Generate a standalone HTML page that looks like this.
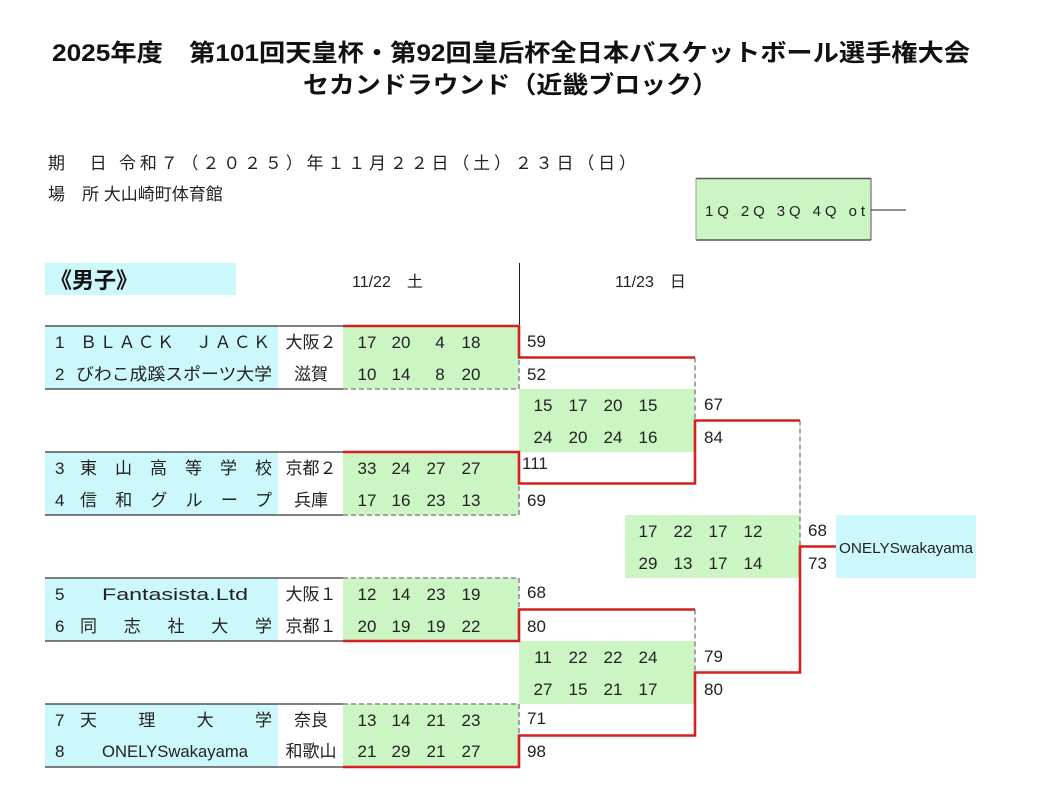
<!DOCTYPE html>
<html><head><meta charset="utf-8"><style>
html,body{margin:0;padding:0;background:#fff;}
svg{display:block;font-family:"Liberation Sans","Noto Sans CJK JP",sans-serif;}
</style></head><body>
<svg width="1050" height="785" viewBox="0 0 1050 785" xmlns="http://www.w3.org/2000/svg">
<g font-weight="bold" font-size="24" fill="#111">
<text x="52" y="61" textLength="918" lengthAdjust="spacingAndGlyphs">2025年度　第101回天皇杯・第92回皇后杯全日本バスケットボール選手権大会</text>
<text x="303" y="93" textLength="415" lengthAdjust="spacingAndGlyphs">セカンドラウンド（近畿ブロック）</text>
</g>
<g font-size="17" fill="#222">
<text x="48" y="169" textLength="588">期　日 令和７（２０２５）年１１月２２日（土）２３日（日）</text>
<text x="48" y="200">場　所 大山崎町体育館</text>
</g>
<rect x="696" y="178" width="175" height="62" fill="#ccf5c4"/>
<line x1="696" y1="178.5" x2="871" y2="178.5" stroke="#555" stroke-width="1.5"/>
<line x1="696" y1="240" x2="871" y2="240" stroke="#555" stroke-width="1.5"/>
<line x1="871" y1="178" x2="871" y2="240" stroke="#555"/>
<line x1="696" y1="178" x2="696" y2="240" stroke="#999"/>
<line x1="871" y1="210" x2="906" y2="210" stroke="#222"/>
<text x="705" y="216" font-size="15" fill="#222" textLength="160">1Q 2Q 3Q 4Q ot</text>
<rect x="45" y="263" width="191" height="32" fill="#ccf8fb"/>
<text x="50" y="288" font-size="22" font-weight="bold" fill="#111">《男子》</text>
<text x="352" y="287" font-size="16" fill="#222">11/22　土</text>
<text x="615" y="287" font-size="16" fill="#222">11/23　日</text>
<line x1="519.5" y1="263" x2="519.5" y2="326" stroke="#222"/>

<g fill="#ccf8fb">
<rect x="45" y="326" width="233" height="63"/>
<rect x="45" y="452" width="233" height="63"/>
<rect x="45" y="578" width="233" height="63"/>
<rect x="45" y="704" width="233" height="63"/>
<rect x="836" y="515" width="140" height="63"/>
</g>
<g fill="#ccf5c4">
<rect x="343" y="326" width="176" height="63"/>
<rect x="343" y="452" width="176" height="63"/>
<rect x="343" y="578" width="176" height="63"/>
<rect x="343" y="704" width="176" height="63"/>
<rect x="519" y="389" width="176" height="63"/>
<rect x="519" y="641" width="176" height="63"/>
<rect x="625" y="515" width="175" height="63"/>
</g>
<g stroke="#333" stroke-width="1.2">
<line x1="45" y1="326" x2="343" y2="326"/><line x1="45" y1="389" x2="343" y2="389"/>
<line x1="45" y1="452" x2="343" y2="452"/><line x1="45" y1="515" x2="343" y2="515"/>
<line x1="45" y1="578" x2="343" y2="578"/><line x1="45" y1="641" x2="343" y2="641"/>
<line x1="45" y1="704" x2="343" y2="704"/><line x1="45" y1="767" x2="343" y2="767"/>
</g>
<g stroke="#888" stroke-width="1.5" stroke-dasharray="5,3" fill="none">
<polyline points="343,389 519,389 519,357.5"/>
<polyline points="343,515 519,515 519,483.5"/>
<polyline points="343,578 519,578 519,609.5"/>
<polyline points="343,704 519,704 519,735.5"/>
<line x1="695" y1="357.5" x2="695" y2="420.5"/>
<line x1="695" y1="609.5" x2="695" y2="672.5"/>
<line x1="800" y1="420.5" x2="800" y2="546.5"/>
</g>
<g stroke="#d42020" stroke-width="2.6" fill="none">
<polyline points="343,326 519,326 519,357.5 695,357.5"/>
<polyline points="343,452 519,452 519,483.5 695,483.5 695,420.5 800,420.5"/>
<polyline points="343,641 519,641 519,609.5 695,609.5"/>
<polyline points="343,767 519,767 519,735.5 695,735.5 695,672.5 800,672.5 800,546.5 836,546.5"/>
</g>

<g font-size="17" fill="#222">
<text x="55" y="348">1</text><text x="80" y="348" textLength="190" lengthAdjust="spacing">ＢＬＡＣＫ　ＪＡＣＫ</text>
<text x="55" y="380">2</text><text x="76" y="380" textLength="196" lengthAdjust="spacingAndGlyphs">びわこ成蹊スポーツ大学</text>
<text x="55" y="474">3</text><text x="80" y="474" textLength="192" lengthAdjust="spacing">東山高等学校</text>
<text x="55" y="506">4</text><text x="80" y="506" textLength="192" lengthAdjust="spacing">信和グループ</text>
<text x="55" y="600">5</text><text x="102" y="600" textLength="146" lengthAdjust="spacingAndGlyphs">Fantasista.Ltd</text>
<text x="55" y="632">6</text><text x="80" y="632" textLength="192" lengthAdjust="spacing">同志社大学</text>
<text x="55" y="726">7</text><text x="80" y="726" textLength="192" lengthAdjust="spacing">天理大学</text>
<text x="55" y="757">8</text><text x="102" y="757" textLength="146" lengthAdjust="spacingAndGlyphs">ONELYSwakayama</text>
<g text-anchor="middle">
<text x="311" y="348">大阪２</text><text x="311" y="380">滋賀</text>
<text x="311" y="474">京都２</text><text x="311" y="506">兵庫</text>
<text x="311" y="600">大阪１</text><text x="311" y="632">京都１</text>
<text x="311" y="726">奈良</text><text x="311" y="757">和歌山</text>
</g>
<g text-anchor="middle">
<text x="367" y="348">17</text><text x="401" y="348">20</text><text x="440" y="348">4</text><text x="471" y="348">18</text>
<text x="367" y="380">10</text><text x="401" y="380">14</text><text x="440" y="380">8</text><text x="471" y="380">20</text>
<text x="367" y="474">33</text><text x="401" y="474">24</text><text x="436" y="474">27</text><text x="471" y="474">27</text>
<text x="367" y="506">17</text><text x="401" y="506">16</text><text x="436" y="506">23</text><text x="471" y="506">13</text>
<text x="367" y="600">12</text><text x="401" y="600">14</text><text x="436" y="600">23</text><text x="471" y="600">19</text>
<text x="367" y="632">20</text><text x="401" y="632">19</text><text x="436" y="632">19</text><text x="471" y="632">22</text>
<text x="367" y="726">13</text><text x="401" y="726">14</text><text x="436" y="726">21</text><text x="471" y="726">23</text>
<text x="367" y="757">21</text><text x="401" y="757">29</text><text x="436" y="757">21</text><text x="471" y="757">27</text>

<text x="543" y="411">15</text><text x="578" y="411">17</text><text x="613" y="411">20</text><text x="648" y="411">15</text>
<text x="543" y="443">24</text><text x="578" y="443">20</text><text x="613" y="443">24</text><text x="648" y="443">16</text>
<text x="543" y="663">11</text><text x="578" y="663">22</text><text x="613" y="663">22</text><text x="648" y="663">24</text>
<text x="543" y="695">27</text><text x="578" y="695">15</text><text x="613" y="695">21</text><text x="648" y="695">17</text>

<text x="648" y="537">17</text><text x="683" y="537">22</text><text x="718" y="537">17</text><text x="753" y="537">12</text>
<text x="648" y="569">29</text><text x="683" y="569">13</text><text x="718" y="569">17</text><text x="753" y="569">14</text>
</g>
<text x="527" y="347">59</text><text x="527" y="380">52</text>
<text x="522" y="469">111</text><text x="527" y="506">69</text>
<text x="527" y="598">68</text><text x="527" y="632">80</text>
<text x="527" y="724">71</text><text x="527" y="757">98</text>
<text x="704" y="410">67</text><text x="704" y="443">84</text>
<text x="704" y="662">79</text><text x="704" y="695">80</text>
<text x="808" y="536">68</text><text x="808" y="569">73</text>
<text x="839" y="553" font-size="15" textLength="134" lengthAdjust="spacingAndGlyphs">ONELYSwakayama</text>
</g>
</svg>
</body></html>
